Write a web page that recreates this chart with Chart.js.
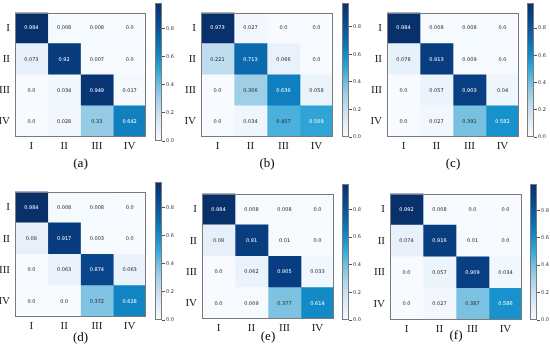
<!DOCTYPE html>
<html>
<head>
<meta charset="utf-8">
<script src="https://cdn.jsdelivr.net/npm/chart.js@4.4.1/dist/chart.umd.min.js"></script>
<style>
    html, body { margin: 0; padding: 0; background: #fff; overflow: hidden; }
    #wrap { position: relative; width: 550px; height: 345px; }
    #wrap canvas { position: absolute; }
    .cap { position: absolute; font: 13px 'Liberation Serif', serif; color: #000; transform: translate(-50%, -50%); white-space: nowrap; }
</style>
</head>
<body>
<div id="wrap"></div>
<script>
// class labels (rows = true, columns = predicted)
const classes = ['I', 'II', 'III', 'IV'];

// normalised confusion matrices, one per panel
const matA = [
    [0.984, 0.008, 0.008, 0.0],
    [0.073, 0.92, 0.007, 0.0],
    [0.0, 0.034, 0.949, 0.017],
    [0.0, 0.028, 0.33, 0.642]
];
const matB = [
    [0.973, 0.027, 0.0, 0.0],
    [0.221, 0.713, 0.066, 0.0],
    [0.0, 0.306, 0.636, 0.058],
    [0.0, 0.034, 0.457, 0.509]
];
const matC = [
    [0.984, 0.008, 0.008, 0.0],
    [0.078, 0.913, 0.009, 0.0],
    [0.0, 0.057, 0.903, 0.04],
    [0.0, 0.027, 0.391, 0.582]
];
const matD = [
    [0.984, 0.008, 0.008, 0.0],
    [0.08, 0.917, 0.003, 0.0],
    [0.0, 0.063, 0.874, 0.063],
    [0.0, 0.0, 0.372, 0.628]
];
const matE = [
    [0.984, 0.008, 0.008, 0.0],
    [0.08, 0.91, 0.01, 0.0],
    [0.0, 0.062, 0.905, 0.033],
    [0.0, 0.009, 0.377, 0.614]
];
const matF = [
    [0.992, 0.008, 0.0, 0.0],
    [0.074, 0.916, 0.01, 0.0],
    [0.0, 0.057, 0.909, 0.034],
    [0.0, 0.027, 0.387, 0.586]
];

const panelNames = ['(a)', '(b)', '(c)', '(d)', '(e)', '(f)'];
const matrices = [matA, matB, matC, matD, matE, matF];
const cbTicks = [0.0, 0.2, 0.4, 0.6, 0.8];

// blues-like colour map, normalised position -> colour
const cmapStops = [
    [0.0, '#f7fbff'], [0.1, '#e3eef9'], [0.2, '#c8e1f0'], [0.3, '#a6d2e8'],
    [0.4, '#76bfe0'], [0.5, '#38aad9'], [0.6, '#1590cb'], [0.7, '#0b71b5'],
    [0.8, '#0a589f'], [0.9, '#084287'], [1.0, '#08306b']
];

// pixel layout of each panel (plot box, colorbar box, caption line)
const layout = [
    { heat: [15, 3, 146, 137], cb: [155, 3, 141], capY: 163 },
    { heat: [201, 3, 333, 137], cb: [342, 3, 137], capY: 163 },
    { heat: [387, 3, 519, 137], cb: [527, 3, 137], capY: 163 },
    { heat: [15, 182, 146, 317], cb: [155, 182, 320], capY: 337 },
    { heat: [202, 184, 334, 319], cb: [342, 184, 320], capY: 336 },
    { heat: [390, 184, 522, 320], cb: [530, 184, 320], capY: 335 }
];

const hexToRgb = (h) => [1, 3, 5].map(i => parseInt(h.slice(i, i + 2), 16));

function colorAt(t) {
    t = Math.max(0, Math.min(1, t));
    for (let k = 1; k < cmapStops.length; k++) {
        const [p1, c1] = cmapStops[k];
        if (t <= p1) {
            const [p0, c0] = cmapStops[k - 1];
            const f = (t - p0) / (p1 - p0);
            const a = hexToRgb(c0), b = hexToRgb(c1);
            const m = a.map((v, i) => Math.round(v + (b[i] - v) * f));
            return `rgb(${m[0]},${m[1]},${m[2]})`;
        }
    }
    return cmapStops[cmapStops.length - 1][1];
}

const fmt = (v) => Number.isInteger(v) ? v.toFixed(1) : String(v);

const frame = {
    id: 'frame',
    afterDraw(chart) {
        const a = chart.chartArea;
        const ctx = chart.ctx;
        ctx.save();
        ctx.strokeStyle = '#7a7a7a';
        ctx.lineWidth = 1;
        ctx.strokeRect(Math.round(a.left) + 0.5, Math.round(a.top) + 0.5,
            Math.round(a.right - a.left) - 1, Math.round(a.bottom - a.top) - 1);
        ctx.restore();
    }
};

const cellText = {
    id: 'cellText',
    afterDatasetsDraw(chart) {
        const mat = chart.options.plugins.cellText.matrix;
        const vmax = Math.max(...mat.flat());
        const ctx = chart.ctx;
        ctx.save();
        ctx.font = '5px "DejaVu Sans", sans-serif';
        ctx.textAlign = 'center';
        ctx.textBaseline = 'middle';
        chart.data.datasets.forEach((ds, j) => {
            chart.getDatasetMeta(j).data.forEach((bar, i) => {
                const { x, y, base } = bar.getProps(['x', 'y', 'base'], true);
                const v = mat[i][j];
                ctx.fillStyle = v > vmax / 2 ? '#ffffff' : '#262626';
                ctx.fillText(fmt(v), (x + base) / 2, y);
            });
        });
        ctx.restore();
    }
};

const wrap = document.getElementById('wrap');

function addCanvas(left, top, w, h) {
    const c = document.createElement('canvas');
    c.width = w;
    c.height = h;
    c.style.left = left + 'px';
    c.style.top = top + 'px';
    c.style.width = w + 'px';
    c.style.height = h + 'px';
    wrap.appendChild(c);
    return c;
}

const labelFont = { family: "'Liberation Serif', serif", size: 11 };

function drawHeatmap(mat, box) {
    const [l, t, r, b] = box;
    const padL = 24, padT = 2, padR = 2, padB = 18;
    const canvas = addCanvas(l - padL, t - padT, r - l + padL + padR, b - t + padT + padB);
    const vmax = Math.max(...mat.flat());

    new Chart(canvas, {
        type: 'bar',
        data: {
            labels: classes,
            datasets: classes.map((c, j) => ({
                label: c,
                data: classes.map(() => 1),
                backgroundColor: mat.map(row => colorAt(row[j] / vmax)),
                borderWidth: 0,
                barPercentage: 1,
                categoryPercentage: 1
            }))
        },
        options: {
            indexAxis: 'y',
            responsive: false,
            animation: false,
            devicePixelRatio: 1,
            layout: { padding: { top: padT, right: padR, left: 0, bottom: 0 } },
            plugins: {
                legend: { display: false },
                tooltip: { enabled: false },
                cellText: { matrix: mat }
            },
            scales: {
                x: { type: 'linear', stacked: true, min: 0, max: 4, display: false },
                xl: {
                    type: 'category',
                    labels: classes,
                    position: 'bottom',
                    offset: true,
                    grid: { display: false, drawTicks: false },
                    border: { display: false },
                    ticks: { font: labelFont, color: '#1a1a1a', padding: 3, maxRotation: 0 },
                    afterFit: (s) => { s.height = padB; }
                },
                y: {
                    type: 'category',
                    stacked: true,
                    grid: { display: false, drawTicks: false },
                    border: { display: false },
                    ticks: { font: labelFont, color: '#1a1a1a', padding: 5 },
                    afterFit: (s) => { s.width = padL; }
                }
            }
        },
        plugins: [cellText, frame]
    });
}

function drawColorbar(mat, box) {
    const [l, t, b] = box;
    const barW = 7, axisW = 22, pad = 6;
    const canvas = addCanvas(l, t - pad, barW + axisW, b - t + pad * 2);
    const vmax = Math.max(...mat.flat());

    new Chart(canvas, {
        type: 'bar',
        data: {
            labels: [''],
            datasets: [{
                data: [vmax],
                borderWidth: 0,
                barPercentage: 1,
                categoryPercentage: 1,
                backgroundColor: (ctx) => {
                    const area = ctx.chart.chartArea;
                    if (!area) return cmapStops[0][1];
                    const g = ctx.chart.ctx.createLinearGradient(0, area.bottom, 0, area.top);
                    cmapStops.forEach(([p, c]) => g.addColorStop(p, c));
                    return g;
                }
            }]
        },
        options: {
            responsive: false,
            animation: false,
            devicePixelRatio: 1,
            layout: { padding: { top: pad, bottom: pad, left: 0, right: 0 } },
            plugins: { legend: { display: false }, tooltip: { enabled: false } },
            scales: {
                x: { display: false },
                y: {
                    position: 'right',
                    min: 0,
                    max: vmax,
                    afterBuildTicks: (s) => { s.ticks = cbTicks.map(v => ({ value: v })); },
                    grid: { display: true, drawOnChartArea: false, drawTicks: true, tickLength: 3, color: '#555' },
                    border: { display: false },
                    ticks: {
                        font: { family: "'DejaVu Sans', sans-serif", size: 5 },
                        color: '#333',
                        padding: 1,
                        callback: (v) => Number(v).toFixed(1)
                    },
                    afterFit: (s) => { s.width = axisW; }
                }
            }
        },
        plugins: [frame]
    });
}

matrices.forEach((mat, k) => {
    const p = layout[k];
    drawHeatmap(mat, p.heat);
    drawColorbar(mat, p.cb);
    const cap = document.createElement('div');
    cap.className = 'cap';
    cap.textContent = panelNames[k];
    cap.style.left = ((p.heat[0] + p.heat[2]) / 2) + 'px';
    cap.style.top = p.capY + 'px';
    wrap.appendChild(cap);
});
</script>
</body>
</html>
